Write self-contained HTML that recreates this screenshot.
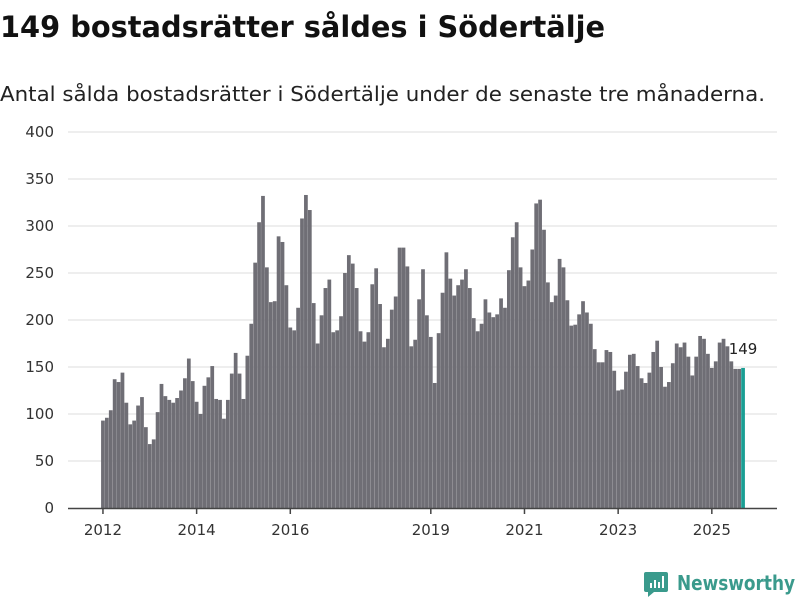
<!DOCTYPE html>
<html><head><meta charset="utf-8"><style>
body{margin:0;background:#fff;width:800px;height:600px;overflow:hidden;font-family:"DejaVu Sans","Liberation Sans",sans-serif;}
</style></head><body>
<svg width="800" height="600" xmlns="http://www.w3.org/2000/svg" font-family="DejaVu Sans, Liberation Sans, sans-serif">
<text x="0" y="37" font-size="29" font-weight="bold" fill="#111" textLength="605" lengthAdjust="spacingAndGlyphs">149 bostadsrätter såldes i Södertälje</text>
<text x="0" y="101" font-size="20" fill="#222" textLength="765" lengthAdjust="spacingAndGlyphs">Antal sålda bostadsrätter i Södertälje under de senaste tre månaderna.</text>
<g id="grid"></g><g id="bars"></g><g id="xaxis"></g>
<g>
<path d="M646 572h20a2 2 0 0 1 2 2v16a2 2 0 0 1-2 2h-12l-6 5v-5h-2a2 2 0 0 1-2-2v-16a2 2 0 0 1 2-2z" fill="#3a9a8c"/>
<rect x="650" y="583" width="2" height="5" fill="#fff"/><rect x="654" y="580" width="2" height="8" fill="#fff"/><rect x="658" y="582" width="2" height="6" fill="#fff"/><rect x="662" y="576" width="2" height="12" fill="#fff"/>
<text x="677" y="590" font-size="20" font-weight="bold" fill="#3a9a8c" textLength="118" lengthAdjust="spacingAndGlyphs">Newsworthy</text>
</g>
</svg>
<script>
const values=[93,96,104,137,134,144,112,89,93,109,118,86,68,73,102,132,119,115,112,117,125,138,159,135,113,100,130,139,151,116,115,95,115,143,165,143,116,162,196,261,304,332,256,219,220,289,283,237,192,189,213,308,333,317,218,175,205,234,243,187,189,204,250,269,260,234,188,177,187,238,255,217,171,180,211,225,277,277,257,172,179,222,254,205,182,133,186,229,272,244,226,237,243,254,234,202,188,196,222,208,203,206,223,213,253,288,304,256,236,242,275,324,328,296,240,219,226,265,256,221,194,195,206,220,208,196,169,155,155,168,166,146,125,126,145,163,164,151,138,133,144,166,178,150,129,134,154,175,171,176,161,141,161,183,180,164,149,156,176,180,172,156,148,148,149];
const yTicks=[0,50,100,150,200,250,300,350,400];
const xTickYears=[2012,2014,2016,2019,2021,2023,2025];
const startYear=2012;
const NS="http://www.w3.org/2000/svg";
const x0=101,x1=745,band=(x1-x0)/values.length;
function y(v){return 508-v*(376/400);}
function xm(i){return x0+i*band;}
const grid=document.getElementById('grid');
yTicks.forEach(t=>{
 if(t>0){const l=document.createElementNS(NS,'line');
 l.setAttribute('x1',68);l.setAttribute('x2',777);l.setAttribute('y1',y(t));l.setAttribute('y2',y(t));
 l.setAttribute('stroke','#ddd');l.setAttribute('stroke-width','1');
 
 
 grid.appendChild(l);}
 const tx=document.createElementNS(NS,'text');
 tx.setAttribute('x',54);tx.setAttribute('y',y(t)+5);tx.setAttribute('text-anchor','end');
 tx.setAttribute('font-size','15');tx.setAttribute('fill','#333');tx.textContent=t;
 
 
 grid.appendChild(tx);
});
const bars=document.getElementById('bars');
values.forEach((v,i)=>{
 const r=document.createElementNS(NS,'rect');
 const last=i===values.length-1;
 r.setAttribute('x',xm(i)+0.08);r.setAttribute('width',band-0.16);
 r.setAttribute('y',y(v));r.setAttribute('height',508-y(v));
 r.setAttribute('fill',last?'#1a9e94':'#6f6e75');
 
 
 bars.appendChild(r);
 if(last){const t=document.createElementNS(NS,'text');
 t.setAttribute('x',xm(i)+band/2);t.setAttribute('y',y(v)-14);t.setAttribute('text-anchor','middle');
 t.setAttribute('font-size','15');t.setAttribute('fill','#222');t.textContent=v;
 
 
 bars.appendChild(t);}
});
const xa=document.getElementById('xaxis');
const ax=document.createElementNS(NS,'line');
ax.setAttribute('x1',68);ax.setAttribute('x2',777);ax.setAttribute('y1',508.5);ax.setAttribute('y2',508.5);
ax.setAttribute('stroke','#444');ax.setAttribute('stroke-width','1.5');


xa.appendChild(ax);
xTickYears.forEach(yr=>{
 const cx=xm((yr-startYear)*12)+band/2;
 const tk=document.createElementNS(NS,'line');
 tk.setAttribute('x1',cx);tk.setAttribute('x2',cx);tk.setAttribute('y1',508);tk.setAttribute('y2',514);
 tk.setAttribute('stroke','#444');tk.setAttribute('stroke-width','1.5');
 
 
 xa.appendChild(tk);
 const t=document.createElementNS(NS,'text');
 t.setAttribute('x',cx);t.setAttribute('y',535);t.setAttribute('text-anchor','middle');
 t.setAttribute('font-size','15');t.setAttribute('fill','#333');t.textContent=yr;
 
 
 xa.appendChild(t);
});
</script>
</body></html>
